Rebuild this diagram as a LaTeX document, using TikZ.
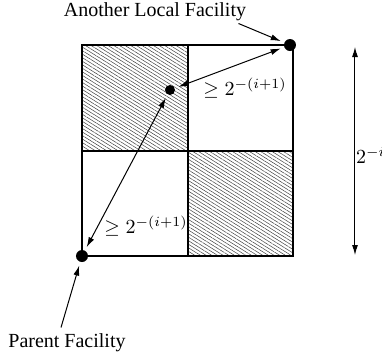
\documentclass[tikz,border=0pt]{standalone}
\usepackage{fontspec}
\setmainfont{Liberation Serif}
\usetikzlibrary{arrows.meta,patterns.meta}

\begin{document}
\begin{tikzpicture}[x=0.5pt, y=-0.5pt,
    facility/.style={circle, fill=black, inner sep=0pt, outer sep=2pt},
    hatched/.style={pattern={Lines[angle=-32,distance=1.5pt,line width=0.25pt]}, pattern color=black!75},
    >={Latex[length=5pt,width=3pt]}]
  \useasboundingbox (0,0) rectangle (382,360);
  % hatched quarters
  \fill[hatched] (82,45) rectangle (188,151);
  \fill[hatched] (188,151) rectangle (293,256);
  \draw[line width=0.55pt] (82,45) rectangle (293,256);
  \draw[line width=0.55pt] (188,45) -- (188,256) (82,151) -- (293,151);
  % facilities
  \node[facility, minimum size=6pt] (far) at (290,45) {};
  \node[facility, minimum size=5pt] (mid) at (170,90) {};
  \node[facility, minimum size=6pt] (pf) at (82,256) {};
  \draw[<->, line width=0.5pt] (far) -- (mid);
  \draw[<->, line width=0.5pt] (mid) -- (pf);
  \node (gap1) at (245,88) {$\geq 2^{-(i+1)}$};
  \node (gap2) at (146,226) {$\geq 2^{-(i+1)}$};
  % labels
  \node[inner sep=1pt] (another) at (155,12) {Another Local Facility};
  \node[inner sep=1pt] (parent) at (67,343) {Parent Facility};
  \draw[->, line width=0.5pt] ([xshift=-5pt]another.south east) -- (far);
  \draw[->, line width=0.5pt] ([xshift=-3pt,yshift=2pt]parent.north) -- (pf);
  % side length
  \coordinate (htop) at (355,47);
  \coordinate (hbot) at (355,255);
  \draw[<->, line width=0.5pt] (htop) -- (hbot);
  \node[anchor=west] (side) at (349,155) {$2^{-i}$};
\end{tikzpicture}
\end{document}
